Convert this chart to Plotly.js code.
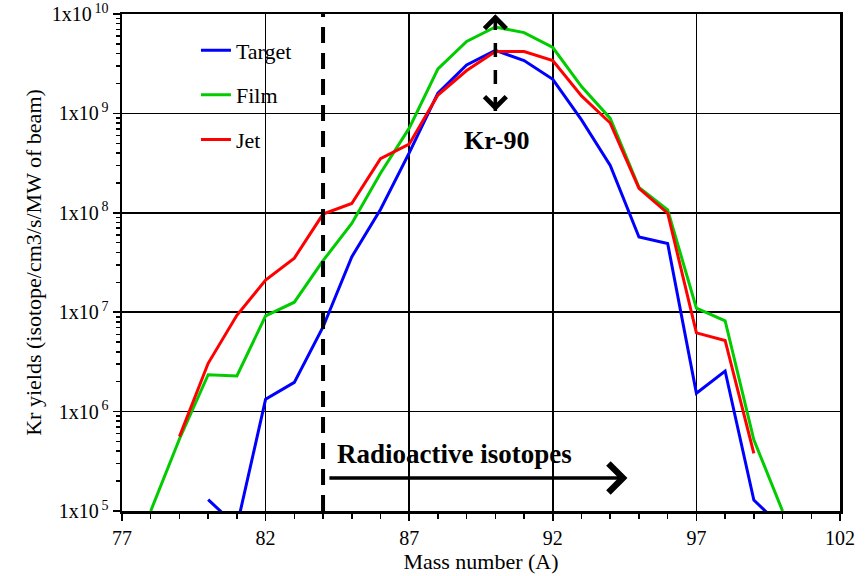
<!DOCTYPE html>
<html>
<head>
<meta charset="utf-8">
<script src="https://cdn.plot.ly/plotly-3.0.1.min.js"></script>
<style>
html,body{margin:0;padding:0;background:#ffffff;}
#chart{width:867px;height:576px;}
</style>
</head>
<body>
<div id="chart"></div>
<script>
// ---- data ----
const massNumbers = [78,79,80,81,82,83,84,85,86,87,88,89,90,91,92,93,94,95,96,97,98,99,100];
const targetYield = [null,null,1.3e5,7e4,1.33e6,1.97e6,7.1e6,3.6e7,1.08e8,4.0e8,1.6e9,3.07e9,4.3e9,3.4e9,2.2e9,8.6e8,3.0e8,5.7e7,4.9e7,1.53e6,2.56e6,1.29e5,6.8e4];
const filmYield   = [1e5,5.3e5,2.35e6,2.28e6,9.2e6,1.26e7,3.3e7,7.8e7,2.5e8,7.1e8,2.8e9,5.3e9,7.4e9,6.5e9,4.6e9,1.86e9,8.9e8,1.8e8,1.07e8,1.1e7,8.2e6,5.2e5,1e5];
const jetYield    = [null,5.6e5,3.06e6,9.3e6,2.1e7,3.5e7,9.7e7,1.24e8,3.5e8,4.9e8,1.53e9,2.7e9,4.2e9,4.2e9,3.4e9,1.5e9,8.0e8,1.76e8,9.9e7,6.2e6,5.2e6,3.8e5,null];
const seriesNames = ["Target","Film","Jet"];
const xTickVals = [77,82,87,92,97,102];
const yTickVals = [1e5,1e6,1e7,1e8,1e9,1e10];
const yTickText = ["1x10<sup>\u20095</sup>","1x10<sup>\u20096</sup>","1x10<sup>\u20097</sup>","1x10<sup>\u20098</sup>","1x10<sup>\u20099</sup>","1x10<sup>\u200910</sup>"];
const radioactiveFrom = 84;      // mass where radioactive isotopes begin (dashed line)
const radioactiveArrowEnd = 94.6;
const radioactiveArrowStart = 84.17;
const radioactiveArrowYield = 2.15e5;
const peakMass = 90;             // Kr-90
const peakArrowTop = 9.92e9;
const peakArrowBottom = 1.06e9;
const peakLabelYield = 5.4e8;
const radioLabelYield = 3.75e5;

// ---- styles ----
const serif = "Liberation Serif";
const colors = ["#0000ff","#00cc00","#ff0000"];
const yields = [targetYield, filmYield, jetYield];

const traces = yields.map((ys,i)=>({
  type:"scatter", mode:"lines", x:massNumbers, y:ys, name:seriesNames[i],
  legendgroup:"g"+i, connectgaps:false,
  line:{color:colors[i], width:3}
}));

const minorY = [];
for(let e=5;e<10;e++){ for(let m=2;m<10;m++){ minorY.push(m*Math.pow(10,e)); } }

const yMin = 5, yMax = 10;
const yFrac = v => (Math.log10(v)-yMin)/(yMax-yMin);
const L = Math.log10;

const layout = {
  width:867, height:576,
  margin:{l:122, r:27, t:14, b:65},
  paper_bgcolor:"#ffffff", plot_bgcolor:"#ffffff",
  font:{family:serif, color:"#000000", size:20},
  showlegend:true,
  legend:{x:0.103, y:0.969, xanchor:"left", yanchor:"top", bgcolor:"rgba(0,0,0,0)",
          font:{family:serif, size:22, color:"#000"}, tracegroupgap:13, traceorder:"grouped"},
  xaxis:{
    range:[77,102], tickmode:"array", tickvals:xTickVals,
    ticks:"outside", ticklen:7, tickwidth:1.5, tickcolor:"#000",
    showline:true, linewidth:2.5, linecolor:"#000", mirror:true,
    showgrid:true, gridcolor:"#000", gridwidth:1.5, zeroline:false,
    tickfont:{family:serif, size:20, color:"#000"},
    minor:{dtick:1, ticks:"outside", ticklen:5, tickwidth:1.5, tickcolor:"#000", showgrid:false},
    title:{text:"Mass number (A)", font:{family:serif, size:22, color:"#000"}, standoff:6}
  },
  yaxis:{
    type:"log", range:[yMin,yMax], tickmode:"array", tickvals:yTickVals, ticktext:yTickText,
    ticks:"outside", ticklen:7, tickwidth:1.5, tickcolor:"#000",
    showline:true, linewidth:2.5, linecolor:"#000", mirror:true,
    showgrid:true, gridcolor:"#000", gridwidth:1.5, zeroline:false,
    tickfont:{family:serif, size:20, color:"#000"},
    minor:{tickmode:"array", tickvals:minorY, ticks:"outside", ticklen:4, tickwidth:1.5, tickcolor:"#000", showgrid:false},
    title:{text:"Kr yields (isotope/cm3/s/MW of beam)", font:{family:serif, size:22, color:"#000"}, standoff:4}
  },
  shapes:[
    {type:"rect", xref:"paper", yref:"paper", x0:0.043, x1:0.322, y0:0.70, y1:0.968,
     fillcolor:"#ffffff", line:{width:0}, layer:"between"},
    {type:"line", xref:"x", yref:"paper", x0:radioactiveFrom, x1:radioactiveFrom, y0:0, y1:1,
     line:{color:"#000", width:4, dash:"16px,10px"}, layer:"above"},
    {type:"line", xref:"x", yref:"paper", x0:peakMass, x1:peakMass, y0:yFrac(peakArrowBottom), y1:yFrac(peakArrowTop),
     line:{color:"#000", width:3.5, dash:"14px,13px"}, layer:"above"}
  ],
  annotations:[
    {xref:"x", yref:"y", x:peakMass, y:L(peakArrowTop), ax:0, ay:14, text:"", showarrow:true,
     arrowhead:4, arrowwidth:3, arrowsize:1.4, arrowcolor:"#000"},
    {xref:"x", yref:"y", x:peakMass, y:L(peakArrowBottom), ax:0, ay:-14, text:"", showarrow:true,
     arrowhead:4, arrowwidth:3, arrowsize:1.4, arrowcolor:"#000"},
    {xref:"x", yref:"y", axref:"x", ayref:"y", x:radioactiveArrowEnd, y:L(radioactiveArrowYield),
     ax:radioactiveArrowStart, ay:L(radioactiveArrowYield), text:"", showarrow:true,
     arrowhead:4, arrowwidth:3.5, arrowsize:1.6, arrowcolor:"#000"},
    {xref:"x", yref:"y", x:peakMass+0.05, y:L(peakLabelYield), text:"<b>Kr-90</b>", showarrow:false,
     font:{family:serif, size:26, color:"#000"}},
    {xref:"x", yref:"y", x:84.42, y:L(radioLabelYield), xanchor:"left", text:"<b>Radioactive isotopes</b>", showarrow:false,
     font:{family:serif, size:27, color:"#000"}}
  ]
};

Plotly.newPlot("chart", traces, layout, {displayModeBar:false, staticPlot:true});
</script>
</body>
</html>
